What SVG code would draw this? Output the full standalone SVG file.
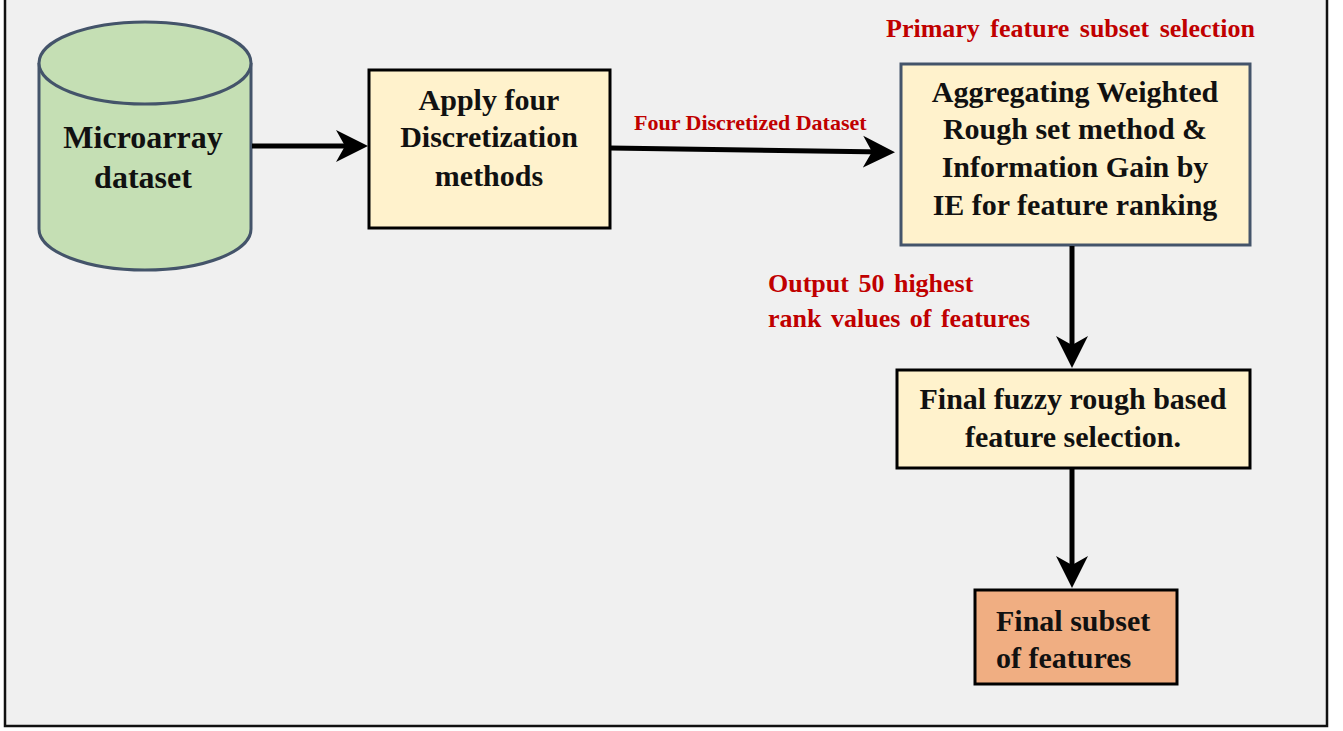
<svg xmlns="http://www.w3.org/2000/svg" width="1343" height="731" viewBox="0 0 1343 731">
  <defs>
    <style>
      .t { font-family: "Liberation Serif", "Times New Roman", serif; font-weight: bold; fill: #111; text-anchor: middle; font-size: 30px; }
      .lbl { font-family: "Liberation Serif", "Times New Roman", serif; font-weight: bold; fill: #c00000; }
      .box { fill: #fff2cc; stroke: #000; stroke-width: 3; }
      .conn { stroke: #000; stroke-width: 5; fill: none; marker-end: url(#ah); }
    </style>
    <marker id="ah" viewBox="0 0 32 34" refX="22" refY="17" markerWidth="32" markerHeight="34" markerUnits="userSpaceOnUse" orient="auto">
      <path d="M0,1 L32,17 L0,33 L9,17 Z" fill="#000"/>
    </marker>
  </defs>
  <rect x="0" y="0" width="1343" height="731" fill="#ffffff"/>
  <rect x="5" y="-5" width="1322" height="731" fill="#f0f0f0" stroke="#111" stroke-width="2.5"/>

  <text class="lbl" x="886" y="37" font-size="26" word-spacing="4">Primary feature subset selection</text>

  <g id="microarray">
    <path d="M39,63 L39,229 A106,41 0 0 0 251,229 L251,63" fill="#c5dfb4" stroke="#44546a" stroke-width="3"/>
    <ellipse cx="145" cy="63" rx="106" ry="41" fill="#c5dfb4" stroke="#44546a" stroke-width="3"/>
    <text class="t" x="143" y="148" style="font-size:32px">Microarray</text>
    <text class="t" x="143" y="188" style="font-size:32px">dataset</text>
  </g>

  <g id="discretization">
    <rect class="box" x="369" y="70" width="241" height="158"/>
    <text class="t" x="489" y="110">Apply four</text>
    <text class="t" x="489" y="147">Discretization</text>
    <text class="t" x="489" y="186">methods</text>
  </g>

  <g id="aggregating">
    <rect class="box" x="901" y="64" width="349" height="181" style="stroke:#44546a"/>
    <text class="t" x="1075" y="102">Aggregating Weighted</text>
    <text class="t" x="1075" y="139">Rough set method &amp;</text>
    <text class="t" x="1075" y="177">Information Gain by</text>
    <text class="t" x="1075" y="215">IE for feature ranking</text>
  </g>

  <g id="fuzzy">
    <rect class="box" x="897" y="370" width="353" height="98"/>
    <text class="t" x="1073" y="409">Final fuzzy rough based</text>
    <text class="t" x="1073" y="447">feature selection.</text>
  </g>

  <g id="final">
    <rect x="975" y="590" width="202" height="94" fill="#f0ae82" stroke="#000" stroke-width="3"/>
    <text class="t" x="996" y="631" style="text-anchor:start">Final subset</text>
    <text class="t" x="996" y="668" style="text-anchor:start">of features</text>
  </g>

  <g id="connectors">
    <line class="conn" x1="252" y1="146" x2="358" y2="146"/>
    <line class="conn" x1="610" y1="148" x2="885" y2="152"/>
    <text class="lbl" x="634" y="130" font-size="22">Four Discretized Dataset</text>
    <line class="conn" x1="1072" y1="246" x2="1072" y2="358"/>
    <text class="lbl" x="768" y="292" font-size="26" word-spacing="3">Output 50 highest</text>
    <text class="lbl" x="768" y="327" font-size="26" word-spacing="3">rank values of features</text>
    <line class="conn" x1="1072" y1="469" x2="1072" y2="578"/>
  </g>
</svg>
